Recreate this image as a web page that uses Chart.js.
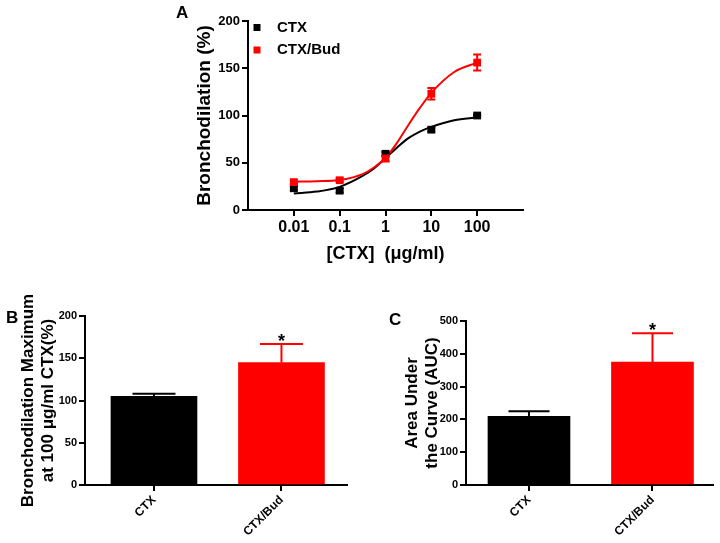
<!DOCTYPE html>
<html>
<head>
<meta charset="utf-8">
<script src="https://cdn.jsdelivr.net/npm/chart.js@4.4.1/dist/chart.umd.min.js"></script>
<style>
  body { margin: 0; background: #fff; }
  #wrap { position: relative; width: 720px; height: 543px; overflow: hidden; font-family: "Liberation Sans", Arial, sans-serif; }
  .box { position: absolute; }
  .tag { position: absolute; font-weight: bold; font-size: 17px; line-height: 20px; color: #000; }
</style>
</head>
<body>
<div id="wrap">
  <div class="box" style="left:170px;top:0;"><canvas id="chartA" width="370" height="280"></canvas></div>
  <div class="box" style="left:0;top:280px;"><canvas id="chartB" width="360" height="263"></canvas></div>
  <div class="box" style="left:360px;top:280px;"><canvas id="chartC" width="360" height="263"></canvas></div>
  <div class="tag" style="left:176px;top:3px;">A</div>
  <div class="tag" style="left:6px;top:308px;">B</div>
  <div class="tag" style="left:389px;top:310px;">C</div>
</div>
<script>
// panel A: dose-response
const doses = [0.01, 0.1, 1, 10, 100];
const ctxMean = [23, 20.5, 59.5, 85, 100];
const ctxErr = [2, 2, 2, 2, 1];
const budMean = [29.5, 31.5, 54.5, 123, 156];
const budErr = [2, 2, 3, 6, 8.5];
// fitted curves
const fitDoses = [0.01, 0.0316, 0.1, 0.316, 0.56, 1, 1.78, 3.16, 5.62, 10, 31.6, 100];
const ctxFit = [17.5, 19.5, 24.5, 36, 44, 55, 66, 76, 83, 88, 95, 98];
const budFit = [30, 30.5, 31.7, 38, 45, 55, 71, 90, 108, 124, 146, 156];
const doseTicks = [0.01, 0.1, 1, 10, 100];

// panels B and C
const groups = ['CTX', 'CTX/Bud'];
const maxMean = [105, 145];
const maxErr = [3, 22];
const aucMean = [209, 375];
const aucErr = [16, 88];
const stars = ['', '*'];

const BLACK = '#000000';
const RED = '#ff0000';
const FONT = '"Liberation Sans", Arial, sans-serif';

const xy = (xs, ys) => xs.map((x, i) => ({ x, y: ys[i] }));

const errorBars = {
  id: 'errorBars',
  afterDatasetDraw(chart, args) {
    const ds = chart.data.datasets[args.index];
    if (!ds.errors) return;
    const { ctx } = chart;
    const ys = chart.scales.y;
    ctx.save();
    ctx.lineWidth = 2;
    args.meta.data.forEach((el, i) => {
      const v = ds.data[i].y;
      const err = ds.errors[i];
      const x = el.x;
      const top = ys.getPixelForValue(v + err);
      const bot = ys.getPixelForValue(ds.upOnly ? v : v - err);
      const half = ds.capHalf;
      ctx.strokeStyle = Array.isArray(ds.errorColor) ? ds.errorColor[i] : ds.errorColor;
      ctx.beginPath();
      ctx.moveTo(x, bot); ctx.lineTo(x, top);
      ctx.moveTo(x - half, top); ctx.lineTo(x + half, top);
      if (!ds.upOnly) { ctx.moveTo(x - half, bot); ctx.lineTo(x + half, bot); }
      ctx.stroke();
      if (ds.stars && ds.stars[i]) {
        ctx.fillStyle = BLACK;
        ctx.font = 'bold 18px ' + FONT;
        ctx.textAlign = 'center';
        ctx.textBaseline = 'alphabetic';
        ctx.fillText(ds.stars[i], x, top + 3);
      }
    });
    ctx.restore();
  }
};

const legendA = {
  id: 'legendA',
  afterDraw(chart) {
    const { ctx } = chart;
    const items = [[groups[0], BLACK], [groups[1], RED]];
    ctx.save();
    ctx.font = 'bold 15px ' + FONT;
    ctx.textBaseline = 'middle';
    items.forEach(([label, color], i) => {
      const y = 27.5 + i * 22.5;
      ctx.fillStyle = color;
      ctx.fillRect(83.5, y - 3.5, 7, 7);
      ctx.fillStyle = BLACK;
      ctx.fillText(label, 107, y);
    });
    ctx.restore();
  }
};

const axisStyle = {
  offset: false,
  grid: { offset: false, drawOnChartArea: false, drawTicks: true, tickLength: 6, color: BLACK, lineWidth: 2 },
  border: { display: true, color: BLACK, width: 2 }
};

new Chart(document.getElementById('chartA'), {
  type: 'line',
  data: {
    datasets: [
      { data: xy(doses, budMean), errors: budErr, errorColor: RED, capHalf: 4, showLine: false,
        pointStyle: 'rect', pointRadius: 5.5, backgroundColor: RED, borderColor: RED, borderWidth: 0, order: 0 },
      { data: xy(doses, ctxMean), errors: ctxErr, errorColor: BLACK, capHalf: 4, showLine: false,
        pointStyle: 'rect', pointRadius: 5.5, backgroundColor: BLACK, borderColor: BLACK, borderWidth: 0, order: 1 },
      { data: xy(fitDoses, budFit), borderColor: RED, borderWidth: 2, pointRadius: 0,
        cubicInterpolationMode: 'monotone', fill: false, order: 2 },
      { data: xy(fitDoses, ctxFit), borderColor: BLACK, borderWidth: 2, pointRadius: 0,
        cubicInterpolationMode: 'monotone', fill: false, order: 3 }
    ]
  },
  options: {
    responsive: false,
    animation: false,
    layout: { padding: { top: 21, right: 17, left: 0, bottom: 0 } },
    plugins: { legend: { display: false }, tooltip: { enabled: false } },
    scales: {
      x: {
        type: 'logarithmic', min: 0.001, max: 1000,
        ...axisStyle,
        afterBuildTicks: s => { s.ticks = doseTicks.map(v => ({ value: v })); },
        afterFit: s => { s.height = 70; },
        ticks: { color: BLACK, font: { family: FONT, size: 16, weight: 'bold' }, padding: 2, maxRotation: 0,
          callback: v => String(v) },
        title: { display: true, text: '[CTX]  (\u03bcg/ml)', color: BLACK,
          font: { family: FONT, size: 18, weight: 'bold' }, padding: { top: 0, bottom: 15 } }
      },
      y: {
        min: 0, max: 200,
        ...axisStyle,
        afterFit: s => { s.width = 78; },
        ticks: { stepSize: 50, color: BLACK, font: { family: FONT, size: 13, weight: 'bold' }, padding: 2 },
        title: { display: true, text: 'Bronchodilation (%)', color: BLACK,
          font: { family: FONT, size: 19, weight: 'bold' }, padding: { top: 23, bottom: 0 } }
      }
    }
  },
  plugins: [errorBars, legendA]
});

function barChart(id, values, errors, yMax, yStep, yTitle, o) {
  return new Chart(document.getElementById(id), {
    type: 'bar',
    data: {
      datasets: [{
        data: xy([0, 1], values),
        errors: errors, upOnly: true, capHalf: o.bar / 4, stars: stars,
        errorColor: [BLACK, RED],
        backgroundColor: [BLACK, RED], borderWidth: 0, barThickness: o.bar
      }]
    },
    options: {
      responsive: false,
      animation: false,
      layout: { padding: { top: o.top, right: o.right, left: 0, bottom: 0 } },
      plugins: { legend: { display: false }, tooltip: { enabled: false } },
      scales: {
        x: {
          type: 'linear', min: o.xMin, max: o.xMax,
          ...axisStyle,
          afterBuildTicks: s => { s.ticks = groups.map((g, i) => ({ value: i })); },
          afterFit: s => { s.height = 58; },
          ticks: { color: BLACK, font: { family: FONT, size: 12, weight: 'bold' }, padding: 2,
            minRotation: 45, maxRotation: 45, callback: (v, i) => groups[i] }
        },
        y: {
          min: 0, max: yMax,
          ...axisStyle,
          afterFit: s => { s.width = o.left; },
          ticks: { stepSize: yStep, color: BLACK, font: { family: FONT, size: 11, weight: 'bold' }, padding: 2 },
          title: { display: true, text: yTitle, color: BLACK,
            font: { family: FONT, size: 17, weight: 'bold' }, padding: { top: o.titlePad, bottom: 0 } }
        }
      }
    },
    plugins: [errorBars]
  });
}

barChart('chartB', maxMean, maxErr, 200, 50,
  ['Bronchodilation Maximum', 'at 100 \u03bcg/ml CTX(%)'],
  { bar: 86, top: 36, right: 13, left: 85, xMin: -0.541, xMax: 1.514, titlePad: 18 });

barChart('chartC', aucMean, aucErr, 500, 100,
  ['Area Under', 'the Curve (AUC)'],
  { bar: 82, top: 41, right: 7, left: 106, xMin: -0.51, xMax: 1.49, titlePad: 42 });
</script>
</body>
</html>
